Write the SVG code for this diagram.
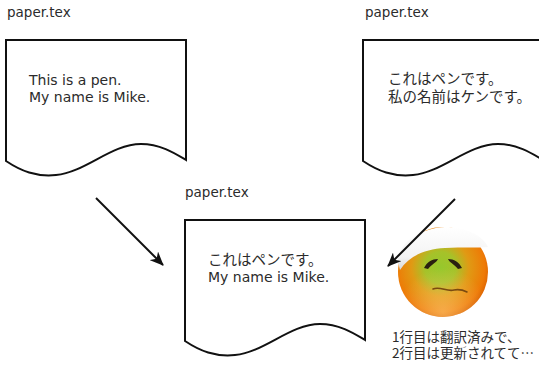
<svg xmlns="http://www.w3.org/2000/svg" width="539" height="376" viewBox="0 0 539 376">
  <defs>
    <style>
      .doc { fill: #ffffff; stroke: #111111; stroke-width: 2; stroke-linejoin: miter; }
      .lbl { font-family: "DejaVu Sans", "Noto Sans CJK JP", sans-serif; font-size: 13.5px; fill: #2b2b2b; }
      .body { font-family: "DejaVu Sans", "Noto Sans CJK JP", sans-serif; font-size: 14px; fill: #2b2b2b; }
      .body-ja { font-family: "Noto Sans CJK JP", sans-serif; font-size: 14.5px; fill: #2b2b2b; }
      .note { font-family: "Noto Sans CJK JP", sans-serif; font-size: 13.5px; fill: #2b2b2b; }
      .arrow { stroke: #111111; stroke-width: 2; fill: none; marker-end: url(#head); }
    </style>
    <marker id="head" viewBox="0 0 14 12" refX="13" refY="6" markerWidth="14" markerHeight="12" markerUnits="userSpaceOnUse" orient="auto">
      <path d="M0,0 L14,6 L0,12 L4,6 Z" fill="#111111"/>
    </marker>
    <!-- the paper shape: flat top, wavy torn-off bottom -->
    <path id="sheet" d="M0,0 H180 V120 C170,114 155,104 135,104 C105,104 80,132 50,135 C30,137 15,131 0,121 Z"/>
    <radialGradient id="faceFill" cx="0.47" cy="0.45" r="0.58">
      <stop offset="0" stop-color="#96c82c"/>
      <stop offset="0.3" stop-color="#a6c229"/>
      <stop offset="0.55" stop-color="#e09a14"/>
      <stop offset="0.85" stop-color="#ee7a06"/>
      <stop offset="1" stop-color="#d65c00"/>
    </radialGradient>
    <radialGradient id="faceGloss" cx="0.5" cy="0.95" r="0.5">
      <stop offset="0" stop-color="#ffd080" stop-opacity="0.55"/>
      <stop offset="1" stop-color="#ffd080" stop-opacity="0"/>
    </radialGradient>
    <linearGradient id="band" x1="0" y1="0" x2="0" y2="1">
      <stop offset="0" stop-color="#ffffff"/>
      <stop offset="0.7" stop-color="#f3f3f3"/>
      <stop offset="1" stop-color="#d8d8d8"/>
    </linearGradient>
  </defs>

  <!-- original English file -->
  <g id="doc-english">
    <text class="lbl" x="7" y="17">paper.tex</text>
    <use href="#sheet" class="doc" x="6" y="40"/>
    <text class="body" x="29" y="85">This is a pen.</text>
    <text class="body" x="29" y="102">My name is Mike.</text>
  </g>

  <!-- translated Japanese file -->
  <g id="doc-japanese">
    <text class="lbl" x="365" y="17">paper.tex</text>
    <use href="#sheet" class="doc" x="363" y="40"/>
    <text class="body-ja" x="388" y="84">これはペンです。</text>
    <text class="body-ja" x="388" y="102">私の名前はケンです。</text>
  </g>

  <!-- half-translated file -->
  <g id="doc-mixed">
    <text class="lbl" x="185" y="197">paper.tex</text>
    <use href="#sheet" class="doc" x="185" y="220"/>
    <text class="body-ja" x="208" y="265">これはペンです。</text>
    <text class="body" x="208" y="282">My name is Mike.</text>
  </g>

  <!-- worried translator -->
  <g id="translator">
    <circle cx="443" cy="272" r="45" fill="url(#faceFill)"/>
    <circle cx="443" cy="272" r="45" fill="url(#faceGloss)"/>
    <!-- headband -->
    <path d="M398,262 C398,243 420,228 445,227 C467,227 483,236 488,247 C478,248 462,247 445,248 C425,249 409,256 400,270 Z" fill="url(#band)"/>
    <!-- eyes -->
    <path d="M424,268 C427,262 432,259 438,259 C437,262 432,264 428,269 Z" fill="#2a2010"/>
    <path d="M462,268 C459,262 454,259 448,259 C449,262 454,264 458,269 Z" fill="#2a2010"/>
    <!-- mouth -->
    <path d="M433,289 C440,286 447,292 454,290 C459,289 463,290 467,292" fill="none" stroke="#7a4a10" stroke-width="1.6" stroke-linecap="round"/>
    <text class="note" x="392" y="342">1行目は翻訳済みで、</text>
    <text class="note" x="392" y="358">2行目は更新されてて…</text>
  </g>

  <g id="connectors">
    <line class="arrow" x1="96" y1="198" x2="163" y2="265"/>
    <line class="arrow" x1="455" y1="199" x2="388" y2="266"/>
  </g>
</svg>
